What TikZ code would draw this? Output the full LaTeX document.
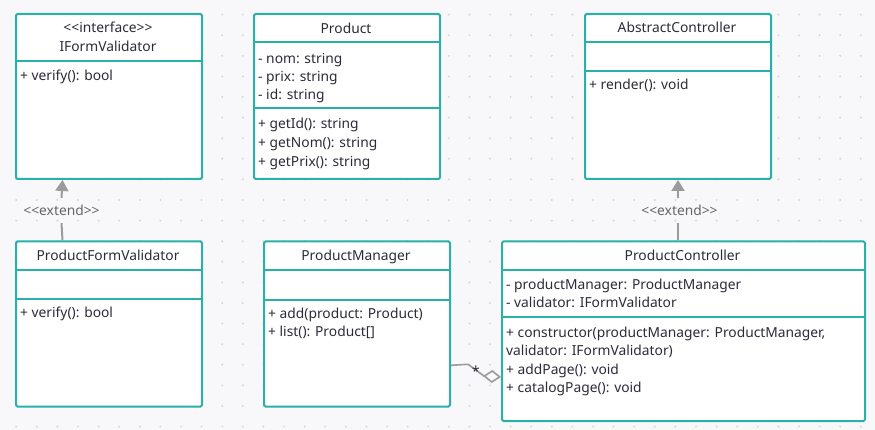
\documentclass[tikz,border=0pt]{standalone}
\usepackage{fontspec}
\setmainfont{Noto Sans}
\usetikzlibrary{arrows.meta}

\definecolor{umlteal}{HTML}{27B1A9}
\definecolor{canvasbg}{HTML}{F8F8FA}
\definecolor{griddot}{HTML}{D6D6DB}
\definecolor{linkgrey}{HTML}{9B9B9B}
\definecolor{ink}{HTML}{2B2B3B}
\definecolor{stereogrey}{HTML}{666666}

\tikzset{
  classbox/.style={draw=umlteal, line width=2pt, fill=white, rounded corners=1.5pt,
    anchor=north west, inner sep=0pt, minimum width=186pt, minimum height=165pt},
  compline/.style={draw=umlteal, line width=2pt},
  member/.style={anchor=base west, inner sep=0pt, text=ink},
  title/.style={anchor=base, inner sep=0pt, text=ink},
  link/.style={draw=linkgrey, line width=2pt},
  stereo/.style={inner sep=0pt, minimum height=25pt, text=stereogrey},
}

\begin{document}
\begin{tikzpicture}[x=1pt, y=-1pt, font=\fontsize{13.8pt}{16pt}\selectfont]
 % canvas
 \fill[canvasbg] (0,0) rectangle (875,430);
 \useasboundingbox (0,0) rectangle (875,430);
 \foreach \gx in {0,...,41}
  \foreach \gy in {0,...,20}
   \fill[griddot] (16.2+20.6*\gx, 14.6+20.6*\gy) circle (1.1pt);

 %IFormValidator
 \node[classbox] (ifv) at (15,13) {};
 \draw[compline] (15,61) -- (201,61);
 \node[title] (ifv-st) at (108,32.3) {<{}<interface>{}>};
 \node[title] (ifv-t) at (108,51.7) {IFormValidator};
 \node[member] (ifv-o1) at (20,81) {+ verify(): bool};

 %Product
 \node[classbox] (prod) at (253,13) {};
 \draw[compline] (253,42) -- (439,42);
 \draw[compline] (253,108.5) -- (439,108.5);
 \node[title] (prod-t) at (346,33.3) {Product};
 \node[member] (prod-a1) at (258,63.3) {- nom: string};
 \node[member] (prod-a2) at (258,81.7) {- prix: string};
 \node[member] (prod-a3) at (258,100) {- id: string};
 \node[member] (prod-o1) at (258,129) {+ getId(): string};
 \node[member] (prod-o2) at (258,147.7) {+ getNom(): string};
 \node[member] (prod-o3) at (258,166.3) {+ getPrix(): string};

 %AbstractController
 \node[classbox] (absc) at (584,13) {};
 \draw[compline] (584,42.3) -- (770,42.3);
 \draw[compline] (584,71.3) -- (770,71.3);
 \node[title] (absc-t) at (677,32.3) {AbstractController};
 \node[member] (absc-o1) at (589,90) {+ render(): void};

 %ProductFormValidator
 \node[classbox] (pfv) at (15,240.5) {};
 \draw[compline] (15,269.7) -- (201,269.7);
 \draw[compline] (15,299) -- (201,299);
 \node[title] (pfv-t) at (108,260.7) {ProductFormValidator};
 \node[member] (pfv-o1) at (20,317.7) {+ verify(): bool};

 %ProductManager
 \node[classbox] (pman) at (263,240.5) {};
 \draw[compline] (263,270) -- (449,270);
 \draw[compline] (263,299.5) -- (449,299.5);
 \node[title] (pman-t) at (356,260.7) {ProductManager};
 \node[member] (pman-o1) at (268,318.3) {+ add(product: Product)};
 \node[member] (pman-o2) at (268,336.7) {+ list(): Product[]};

 %ProductController
 \node[classbox, minimum width=363pt, minimum height=179.5pt] (pctl) at (501,240.5) {};
 \draw[compline] (501,269.7) -- (864,269.7);
 \draw[compline] (501,317) -- (864,317);
 \node[title] (pctl-t) at (682.5,260.7) {ProductController};
 \node[member] (pctl-a1) at (506,289.3) {- productManager: ProductManager};
 \node[member] (pctl-a2) at (506,307.7) {- validator: IFormValidator};
 \node[member] (pctl-o1) at (506,337.3) {+ constructor(productManager: ProductManager,};
 \node[member] (pctl-o1b) at (506,355.7) {validator: IFormValidator)};
 \node[member] (pctl-o2) at (506,374.3) {+ addPage(): void};
 \node[member] (pctl-o3) at (506,392.3) {+ catalogPage(): void};

 %extend links
 \node[stereo] (ext1) at (61.5,210.5) {<{}<extend>{}>};
 \draw[link] ([xshift=-46.5pt]pfv.north) -- (ext1.south);
 \draw[link, -{Triangle[width=13pt,length=11pt]}] (ext1.north) -- ([xshift=-46.5pt]ifv.south);

 \node[stereo] (ext2) at (679.5,210.5) {<{}<extend>{}>};
 \draw[link] (pctl.north -| absc.south) -- (ext2.south -| absc.south);
 \draw[link, -{Triangle[width=13pt,length=11pt]}] (ext2.north -| absc.south) -- (absc.south);

 %aggregation
 \coordinate (agg1) at (468,364.3);
 \coordinate (agg2) at (484,376);
 \draw[link, line width=1.6pt, -{Diamond[open,width=13pt,length=18pt]}]
   ([yshift=-41.3pt]pman.east) -- (agg1) -- (agg2) -- ([yshift=-45.75pt]pctl.west);
 \node[anchor=base, inner sep=0pt, text=ink] (mult) at (476,376) {*};
\end{tikzpicture}
\end{document}
